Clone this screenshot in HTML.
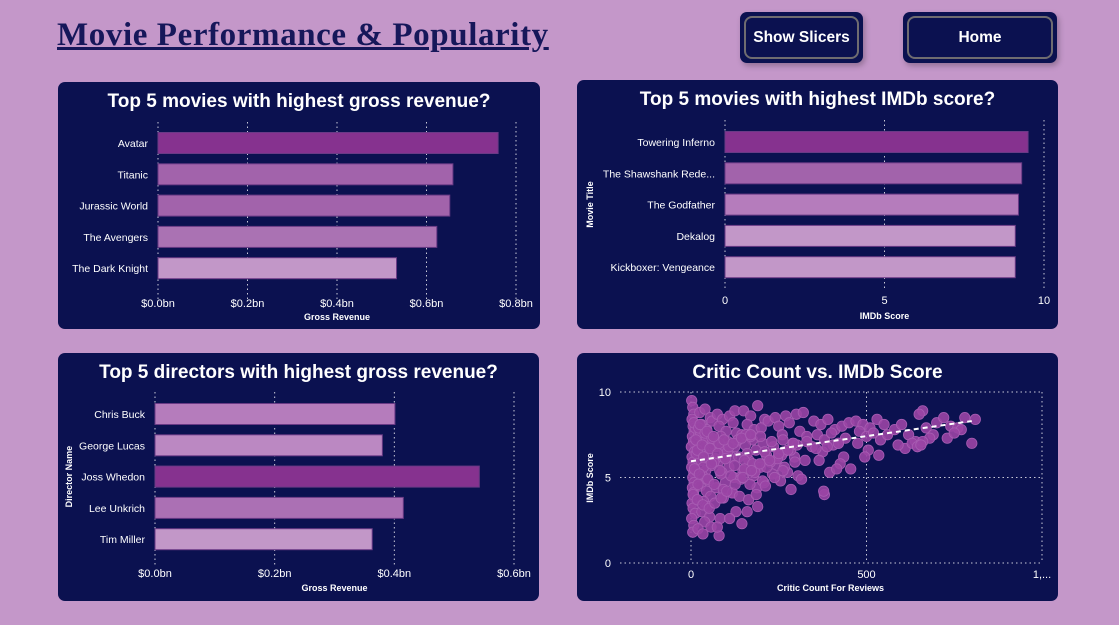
<!DOCTYPE html>
<html><head><meta charset="utf-8"><style>
body{margin:0;width:1119px;height:625px;background:#c497c9;overflow:hidden;font-family:"Liberation Sans",sans-serif;position:relative}
#title{position:absolute;left:57px;top:17px;font-family:"Liberation Serif",serif;font-weight:bold;font-size:33px;color:#16175a;text-decoration:underline;letter-spacing:0.6px}
.btn{position:absolute;top:12px;height:51px;background:#0b1150;border-radius:7px;box-shadow:2px 3px 6px rgba(0,0,0,0.25)}
.btn div{position:absolute;left:4px;top:4px;right:4px;bottom:4px;border:2px solid #6f6c70;border-radius:8px;color:#fff;font-weight:bold;font-size:15.5px;display:flex;align-items:center;justify-content:center}
svg{position:absolute;left:0;top:0}
</style></head><body>
<div id="title">Movie Performance &amp; Popularity</div>
<div class="btn" style="left:740px;width:123px"><div>Show Slicers</div></div>
<div class="btn" style="left:903px;width:154px"><div>Home</div></div>
<svg id="s" width="1119" height="625" xmlns="http://www.w3.org/2000/svg" font-family="Liberation Sans, sans-serif"></svg>
<script>
// Chart 1
const movieNames=["Avatar","Titanic","Jurassic World","The Avengers","The Dark Knight"];
const movieGross=[0.76,0.659,0.652,0.623,0.533];
const grossTicks=[0,0.2,0.4,0.6,0.8];
// Chart 2
const imdbNames=["Towering Inferno","The Shawshank Rede...","The Godfather","Dekalog","Kickboxer: Vengeance"];
const imdbScores=[9.5,9.3,9.2,9.1,9.1];
const imdbTicks=[0,5,10];
// Chart 3
const directorNames=["Chris Buck","George Lucas","Joss Whedon","Lee Unkrich","Tim Miller"];
const directorGross=[0.401,0.38,0.542,0.415,0.363];
const dirTicks=[0,0.2,0.4,0.6];
// Chart 4
const critics=[2,5,8,3,6,9,4,7,1,10,3,6,2,8,5,9,4,7,11,3,6,12,2,8,5,
25,40,55,30,45,60,22,38,52,35,48,28,58,42,33,50,26,44,56,36,47,31,53,39,20,57,34,
75,90,110,125,80,100,120,85,105,130,70,95,115,78,108,88,122,98,72,118,92,128,83,80,75,110,145,160,190,
150,170,190,210,160,180,200,220,145,175,205,155,185,215,165,195,148,178,208,188,
240,270,300,320,250,280,310,330,260,290,235,265,295,325,245,275,305,255,285,315,380,378,
350,370,390,410,430,450,360,380,400,420,440,345,375,405,435,365,395,425,415,455,
470,490,510,530,550,480,500,520,540,560,475,505,535,495,
580,600,620,640,660,650,670,690,610,630,590,680,645,700,660,655,
720,740,760,770,780,800,810,730,750,
15,30,50,70,100,130,160,200,15,35,65,95,125,170,210,20,45,85,140,190,250,
12,28,44,62,88,104,136,152,176,198,226,258,284,18,36,58,82,114,142,168,204,232,266,296,
10,24,48,66,92,118,138,164,186,212,238,262,14,32,54,76,98,124,152,182,216,246,
6,18,34,52,68,86,102,126,148,172,196,224,250,276,302,8,22,40,60,80,108,134,156,
26,46,64,94,120,144,170,198,230,262,292,330,356,388,420];
const scores=[9.5,9.1,8.7,8.4,8.0,7.7,7.4,7.1,6.8,6.5,6.2,5.9,5.6,5.3,5.0,4.7,4.4,4.1,3.8,3.5,3.2,2.9,2.6,2.2,1.8,
8.8,9.0,8.5,8.1,7.8,8.3,7.5,7.2,6.9,6.6,6.3,6.0,5.7,5.4,5.1,4.8,4.5,4.2,3.9,3.6,3.3,3.0,2.7,2.4,2.0,2.1,1.7,
8.7,8.4,8.6,8.9,8.0,7.7,8.2,7.4,7.1,7.6,6.8,6.5,6.2,5.9,5.6,5.3,5.0,4.7,4.4,4.1,3.8,3.0,2.6,1.6,2.1,2.6,2.3,3.0,3.3,
8.9,8.6,9.2,8.4,8.1,7.8,7.9,8.3,7.5,7.2,7.0,6.9,6.6,6.3,6.0,5.7,5.4,5.1,4.7,4.4,
8.5,8.6,8.7,8.8,8.0,8.2,7.7,7.4,7.5,7.0,6.8,6.5,6.2,6.0,5.7,5.3,5.1,4.8,4.3,4.9,4.0,4.2,
8.3,8.1,8.4,7.8,8.0,8.2,7.5,7.2,7.6,7.0,7.3,6.8,6.5,6.9,6.2,6.0,5.3,5.8,5.5,5.5,
8.3,8.1,7.9,8.4,8.1,7.7,7.4,7.6,7.2,7.5,7.0,6.6,6.3,6.2,
7.8,8.1,7.5,7.1,8.9,8.7,7.9,7.5,6.7,7.0,6.9,7.3,6.8,8.2,7.1,6.9,
8.5,8.0,7.9,7.8,8.5,7.0,8.4,7.3,7.6,
6.4,6.9,7.3,6.1,6.7,7.1,6.4,5.8,5.4,5.6,5.9,6.2,6.8,7.4,6.5,4.6,4.9,5.2,5.0,5.6,6.3,
7.9,7.6,7.3,7.0,6.8,6.5,6.2,6.0,5.8,5.6,5.9,6.3,6.6,6.6,6.2,5.8,5.4,5.1,4.9,4.6,4.8,5.2,5.6,5.9,
5.5,5.2,4.9,4.6,4.3,4.1,3.9,3.7,4.0,4.5,5.0,5.4,7.2,6.9,6.7,6.4,6.1,5.7,5.5,5.3,5.6,6.1,
4.0,3.7,3.4,3.2,3.5,3.8,4.2,4.6,5.0,5.4,5.8,6.0,6.4,6.6,6.9,8.2,7.9,7.6,7.3,7.0,6.8,7.2,7.5,
8.1,7.7,7.4,7.2,7.0,7.3,7.5,7.4,7.1,7.2,7.0,7.1,6.7,6.8,7.0];
const trendX=[0,800];
const trendY=[5.95,8.3];
const scatterXTicks=["0","500","1,..."];
const scatterXTickVals=[0,500,1000];
const scatterYTicks=[0,5,10];

const S=document.getElementById('s');
const NS="http://www.w3.org/2000/svg";
function mk(tag,attrs,parent){const e=document.createElementNS(NS,tag);for(const k in attrs)e.setAttribute(k,attrs[k]);(parent||S).appendChild(e);return e;}
function txt(str,attrs,parent){const e=mk('text',attrs,parent);e.textContent=str;return e;}

function panel(x,y,w,h,title,name){
  const g=mk('g',{});
  
  
  mk('rect',{x:x,y:y,width:w,height:h,rx:7,fill:'#0b1150'},g);
  const t=txt(title,{x:x+w/2,y:y+25,'text-anchor':'middle',fill:'#fff','font-size':19,'font-weight':'bold'},g);
  
  
  return g;
}

function hbar(o){
  const g=panel(o.px,o.py,o.pw,o.ph,o.title,o.name);
  const xs=v=>o.x0+(v-o.ticks[0])/(o.ticks[o.ticks.length-1]-o.ticks[0])*(o.x1-o.x0);
  o.ticks.forEach(t=>{
    const gl=mk('line',{x1:xs(t),x2:xs(t),y1:o.gy0,y2:o.gy1,stroke:'#c9c9d8','stroke-width':1,'stroke-dasharray':'1.5,3'},g);
    
    
    const tl=txt(o.fmt(t),{x:xs(t),y:o.tickY,'text-anchor':'middle',fill:'#fff','font-size':11},g);
    
    
  });
  o.cats.forEach((c,i)=>{
    const cy=o.rowY0+i*o.rowStep;
    const b=mk('rect',{x:xs(0),y:cy-10.5,width:xs(o.vals[i])-xs(0),height:21,fill:o.colors[i],stroke:'#6a3a86','stroke-width':1},g);
    
    
    const l=txt(c,{x:o.x0-10,y:cy+4,'text-anchor':'end',fill:'#fff','font-size':10.5},g);
    
    
  });
  const xt=txt(o.xTitle,{x:(o.x0+o.x1)/2,y:o.xTitleY,'text-anchor':'middle',fill:'#fff','font-size':9,'font-weight':'bold'},g);
  
  
  if(o.yTitle){
    const yt=txt(o.yTitle,{x:0,y:0,'text-anchor':'middle',fill:'#fff','font-size':9,'font-weight':'bold',transform:`translate(${o.yTitleX},${o.rowY0+2*o.rowStep}) rotate(-90)`},g);
    
    
  }
}
const bn=v=>'$'+v.toFixed(1)+'bn';
hbar({px:58,py:82,pw:482,ph:247,title:'Top 5 movies with highest gross revenue?',name:'gross-revenue-movies-chart',
  x0:158,x1:516,ticks:grossTicks,fmt:bn,gy0:122,gy1:300,tickY:307,rowY0:143,rowStep:31.3,
  cats:movieNames,vals:movieGross,colors:['#86328f','#a263ab','#a263ab','#aa72b3','#c297c8'],xTitle:'Gross Revenue',xTitleY:320});
hbar({px:577,py:80,pw:481,ph:249,title:'Top 5 movies with highest IMDb score?',name:'imdb-movies-chart',
  x0:725,x1:1044,ticks:imdbTicks,fmt:v=>String(v),gy0:120,gy1:290,tickY:304,rowY0:142,rowStep:31.3,
  cats:imdbNames,vals:imdbScores,colors:['#86328f','#a263ab','#b57cbc','#c297c8','#c297c8'],xTitle:'IMDb Score',xTitleY:319,yTitle:'Movie Title',yTitleX:593});
hbar({px:58,py:353,pw:481,ph:248,title:'Top 5 directors with highest gross revenue?',name:'directors-gross-chart',
  x0:155,x1:514,ticks:dirTicks,fmt:bn,gy0:392,gy1:566,tickY:577,rowY0:414,rowStep:31.3,
  cats:directorNames,vals:directorGross,colors:['#b57cbc','#bb88c2','#86328f','#ab70b4','#c297c8'],xTitle:'Gross Revenue',xTitleY:591,yTitle:'Director Name',yTitleX:72});

// Scatter
(function(){
  const g=panel(577,353,481,248,'Critic Count vs. IMDb Score','critic-imdb-scatter');
  const X0=691,X1=1042,Y0=563,Y1=392;
  const xs=v=>X0+v/1000*(X1-X0);
  const ys=v=>Y0-v/10*(Y0-Y1);
  scatterYTicks.forEach(t=>{
    const gl=mk('line',{x1:620,x2:X1,y1:ys(t),y2:ys(t),stroke:'#c9c9d8','stroke-dasharray':'1.5,3'},g);
    
    
    const tl=txt(String(t),{x:611,y:ys(t)+4,'text-anchor':'end',fill:'#fff','font-size':11},g);
    
    
  });
  scatterXTickVals.forEach((t,i)=>{
    const gl=mk('line',{x1:xs(t),x2:xs(t),y1:Y1,y2:Y0,stroke:'#c9c9d8','stroke-dasharray':'1.5,3'},g);
    
    
    const tl=txt(scatterXTicks[i],{x:xs(t),y:578,'text-anchor':'middle',fill:'#fff','font-size':11},g);
    
    
  });
  critics.forEach((c,i)=>{
    const p=mk('circle',{cx:xs(c),cy:ys(scores[i]),r:5.2,fill:'#9a45a5','fill-opacity':0.9,stroke:'#a85db3','stroke-width':0.8},g);
    
    
  });
  const tr=mk('line',{x1:xs(trendX[0]),y1:ys(trendY[0]),x2:xs(trendX[1]),y2:ys(trendY[1]),stroke:'#fff','stroke-width':2,'stroke-dasharray':'5,4'},g);
  
  
  const xt=txt('Critic Count For Reviews',{x:xs(500)-36,y:591,'text-anchor':'middle',fill:'#fff','font-size':9,'font-weight':'bold'},g);
  
  
  const yt=txt('IMDb Score',{x:0,y:0,'text-anchor':'middle',fill:'#fff','font-size':9,'font-weight':'bold',transform:'translate(593,478) rotate(-90)'},g);
  
  
})();
</script>
</body></html>
